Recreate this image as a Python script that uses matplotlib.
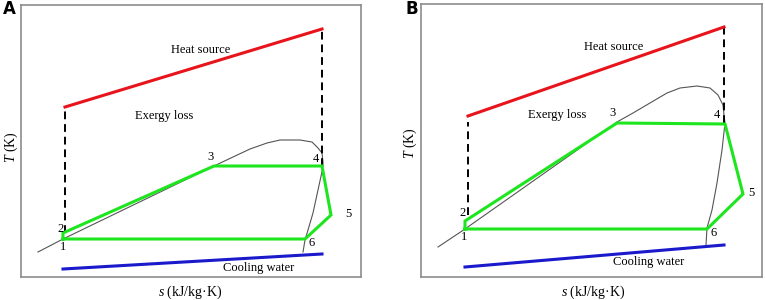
import matplotlib
matplotlib.use("Agg")
import matplotlib.pyplot as plt

plt.rcParams['font.family'] = ['Liberation Serif', 'DejaVu Serif']
plt.rcParams['mathtext.fontset'] = 'custom'
plt.rcParams['mathtext.rm'] = 'Liberation Serif'
plt.rcParams['mathtext.it'] = 'Liberation Serif:italic'

# ---------------- Panel A data (s, T in arbitrary schematic units) ----------------
a_cycle_s = [42, 42, 193, 301, 310, 284, 42]
a_cycle_T = [38, 44, 111, 111, 62, 38, 38]
a_dome_s = [17, 42, 193, 212, 229, 246, 259, 279, 291, 297, 301, 302, 302,
            297, 292, 287, 284, 282]
a_dome_T = [25, 38, 111, 120, 128, 134, 137, 137, 135, 129, 124, 115, 110,
            87, 64, 47, 37, 25]
a_heat_s = [44, 301]
a_heat_T = [170, 248]
a_cool_s = [42, 301]
a_cool_T = [8, 23]
a_dash_left = (44, 44, 170)
a_dash_right = (301, 111, 248)
a_point_labels = ['1', '2', '3', '4', '5', '6']
a_label_s = [42, 40, 189, 295, 327, 291]
a_label_T = [30, 48, 120, 118, 63, 34]
a_text_pos = {'Heat source': (180, 227), 'Exergy loss': (143, 161), 'Cooling water': (238, 9)}

# ---------------- Panel B data ----------------
b_cycle_s = [44, 44, 196, 304, 322, 286, 44]
b_cycle_T = [48, 56, 154, 153, 83, 48, 48]
b_dome_s = [17, 44, 196, 212, 229, 246, 259, 276, 289, 297, 302, 303, 304,
            301, 296, 291, 286, 285]
b_dome_T = [30, 48, 155, 164, 174, 184, 189, 191, 189, 182, 172, 162, 154,
            127, 94, 67, 49, 32]
b_heat_s = [47, 303]
b_heat_T = [161, 250]
b_cool_s = [44, 303]
b_cool_T = [10, 32]
b_dash_left = (47, 62, 155)
b_dash_right = (303, 154, 250)
b_point_labels = ['1', '2', '3', '4', '5', '6']
b_label_s = [43, 42, 192, 296, 330, 293]
b_label_T = [40, 64, 164, 162, 84, 44]
b_text_pos = {'Heat source': (193, 230), 'Exergy loss': (136, 162), 'Cooling water': (228, 15)}

W, H = 765, 300
fig = plt.figure(figsize=(W / 100, H / 100), dpi=100)


def panel(frame, cycle_s, cycle_T, dome_s, dome_T, heat_s, heat_T, cool_s, cool_T,
          dl, dr, labels, ls, lt, texts, letter, letter_xy, ylab_xy, xlab_xy):
    left, right, top, bottom = frame
    ax = fig.add_axes([left / W, 1 - bottom / H, (right - left) / W, (bottom - top) / H])
    ax.set_xlim(0, right - left)
    ax.set_ylim(0, bottom - top)
    ax.set_xticks([])
    ax.set_yticks([])
    for sp in ax.spines.values():
        sp.set_color('#8c8c8c')
        sp.set_linewidth(1.2)
    ax.plot(dome_s, dome_T, color='#555555', lw=0.8, zorder=2)
    ax.plot(cycle_s, cycle_T, color='#1ee61e', lw=2.2, zorder=3, solid_joinstyle='miter')
    ax.plot(heat_s, heat_T, color='#e8141c', lw=2.2, zorder=3)
    ax.plot(cool_s, cool_T, color='#1a1acc', lw=2.2, zorder=3)
    for (x, y0, y1) in (dl, dr):
        ax.plot([x, x], [y0, y1], color='black', lw=1.4, ls=(0, (4, 2.5)), zorder=2)
    for lab, x, y in zip(labels, ls, lt):
        ax.text(x, y, lab, fontsize=9, ha='center', va='center', zorder=4)
    for t, (x, y) in texts.items():
        ax.text(x, y, t, fontsize=9, ha='center', va='center')
    fig.text(letter_xy[0] / W, 1 - letter_xy[1] / H, letter, fontsize=12, fontweight='bold',
             family='DejaVu Sans', ha='center', va='center')
    fig.text(ylab_xy[0] / W, 1 - ylab_xy[1] / H, r'$T$ (K)', fontsize=10, rotation=90,
             ha='center', va='center')
    fig.text(xlab_xy[0] / W, 1 - xlab_xy[1] / H, r'$s$ (kJ/kg·K)', fontsize=10,
             ha='center', va='center')


panel((21, 361, 5, 277), a_cycle_s, a_cycle_T, a_dome_s, a_dome_T, a_heat_s, a_heat_T,
      a_cool_s, a_cool_T, a_dash_left, a_dash_right, a_point_labels, a_label_s, a_label_T,
      a_text_pos, 'A', (9, 9), (11, 147), (190, 292))
panel((421, 762, 4, 277), b_cycle_s, b_cycle_T, b_dome_s, b_dome_T, b_heat_s, b_heat_T,
      b_cool_s, b_cool_T, b_dash_left, b_dash_right, b_point_labels, b_label_s, b_label_T,
      b_text_pos, 'B', (412, 9), (410, 143), (593, 292))

fig.savefig('out.png', dpi=100)
